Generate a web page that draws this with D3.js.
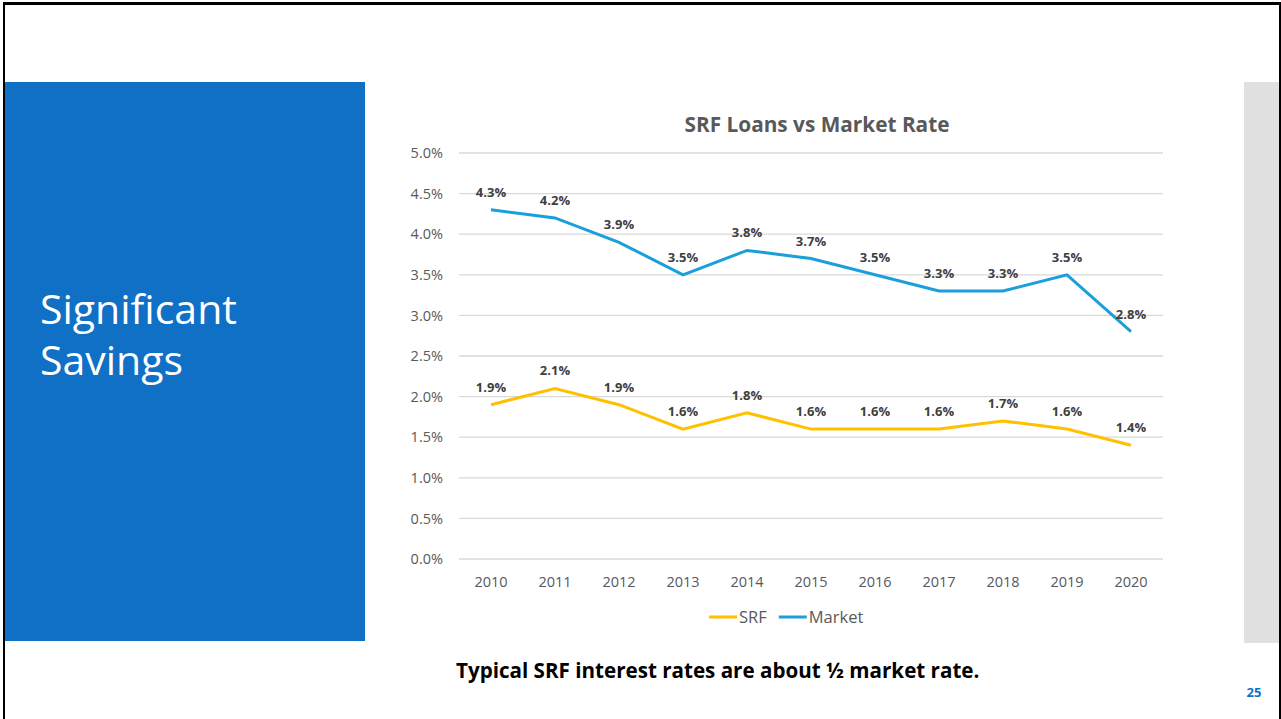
<!DOCTYPE html>
<html><head><meta charset="utf-8">
<script src="https://cdn.jsdelivr.net/npm/d3@7"></script>
<style>
html,body{margin:0;padding:0;background:#fff;overflow:hidden;}
svg{display:block;}
</style></head>
<body>
<script>
const years = ["2010","2011","2012","2013","2014","2015","2016","2017","2018","2019","2020"];
const srfValues = [1.9, 2.1, 1.9, 1.6, 1.8, 1.6, 1.6, 1.6, 1.7, 1.6, 1.4];
const marketValues = [4.3, 4.2, 3.9, 3.5, 3.8, 3.7, 3.5, 3.3, 3.3, 3.5, 2.8];
const yTicks = [0, 0.5, 1.0, 1.5, 2.0, 2.5, 3.0, 3.5, 4.0, 4.5, 5.0];
const seriesNames = ["SRF", "Market"];

const W = 1281, H = 719;
const svg = d3.select("body").append("svg").attr("width", W).attr("height", H);
const font = "'Open Sans', Lato, sans-serif";

// slide frame
svg.append("rect").attr("x",0).attr("y",0).attr("width",W).attr("height",H).attr("fill","#fff");
svg.append("line").attr("x1",3).attr("x2",1281).attr("y1",3.5).attr("y2",3.5).attr("stroke","#000").attr("stroke-width",3);
svg.append("line").attr("x1",4).attr("x2",4).attr("y1",3).attr("y2",H).attr("stroke","#000").attr("stroke-width",2);
svg.append("line").attr("x1",1280).attr("x2",1280).attr("y1",3).attr("y2",H).attr("stroke","#000").attr("stroke-width",2);

// blue panel
svg.append("rect").attr("x",5).attr("y",82).attr("width",360).attr("height",559).attr("fill","#1070C6");
svg.append("text").attr("x",40).attr("y",324).attr("fill","#fff").attr("font-family",font)
  .attr("font-size",41).text("Significant");
svg.append("text").attr("x",40).attr("y",375).attr("fill","#fff").attr("font-family",font)
  .attr("font-size",41).text("Savings");

// gray side panel
svg.append("rect").attr("x",1244).attr("y",82).attr("width",35).attr("height",561).attr("fill","#E1E1E1");

// chart
const x = d3.scaleBand().domain(years).range([459, 1163]);
const y = d3.scaleLinear().domain([0, 5]).range([559, 153]);

const g = svg.append("g");
g.selectAll("line.grid").data(yTicks).enter().append("line")
  .attr("x1",459).attr("x2",1163)
  .attr("y1",d=>y(d)).attr("y2",d=>y(d))
  .attr("stroke","#D9D9D9").attr("stroke-width",1.3);

const yAxis = d3.axisLeft(y).tickValues(yTicks).tickFormat(d=>d.toFixed(1)+"%").tickSize(0).tickPadding(0);
g.append("g").attr("transform","translate(443,0)").call(yAxis)
  .call(s=>s.select(".domain").remove())
  .selectAll("text").attr("font-family",font).attr("font-size",14.5).attr("fill","#595959");

const xAxis = d3.axisBottom(x).tickSize(0).tickPadding(0);
g.append("g").attr("transform","translate(0,577)").call(xAxis)
  .call(s=>s.select(".domain").remove())
  .selectAll("text").attr("font-family",font).attr("font-size",14.5).attr("fill","#595959").attr("dy","0.71em");

const cx = d => x(d) + x.bandwidth()/2;
const line = d3.line().x((d,i)=>cx(years[i])).y(d=>y(d));

const series = [
  {name:"SRF", values:srfValues, color:"#FFC000"},
  {name:"Market", values:marketValues, color:"#1A9FDB"}
];
series.forEach(s=>{
  g.append("path").datum(s.values).attr("d",line).attr("fill","none")
    .attr("stroke",s.color).attr("stroke-width",3).attr("stroke-linejoin","miter");
  g.selectAll(null).data(s.values).enter().append("text")
    .attr("x",(d,i)=>cx(years[i])).attr("y",d=>y(d)-13)
    .attr("text-anchor","middle").attr("font-family",font).attr("font-weight","bold")
    .attr("font-size",13).attr("fill","#404040")
    .text(d=>d.toFixed(1)+"%");
});

// title
svg.append("text").attr("x",817).attr("y",132).attr("text-anchor","middle")
  .attr("font-family",font).attr("font-weight","bold").attr("font-size",20.8).attr("fill","#595959")
  .text("SRF Loans vs Market Rate");

// legend
let lx = 709;
series.forEach((s,i)=>{
  svg.append("line").attr("x1",lx).attr("x2",lx+28).attr("y1",617).attr("y2",617)
    .attr("stroke",s.color).attr("stroke-width",3);
  const t = svg.append("text").attr("x",lx+30).attr("y",623).attr("font-family",font)
    .attr("font-size",16.5).attr("fill","#595959").text(seriesNames[i]);
  lx = lx + 30 + t.node().getComputedTextLength() + 12;
});

// footer
svg.append("text").attr("x",456).attr("y",678).attr("font-family",font).attr("font-weight","bold")
  .attr("font-size",20.6).attr("fill","#000").text("Typical SRF interest rates are about ½ market rate.");
svg.append("text").attr("x",1254).attr("y",697).attr("text-anchor","middle").attr("font-family",font)
  .attr("font-weight","bold").attr("font-size",13).attr("fill","#1070C6").text("25");
</script>
</body></html>
